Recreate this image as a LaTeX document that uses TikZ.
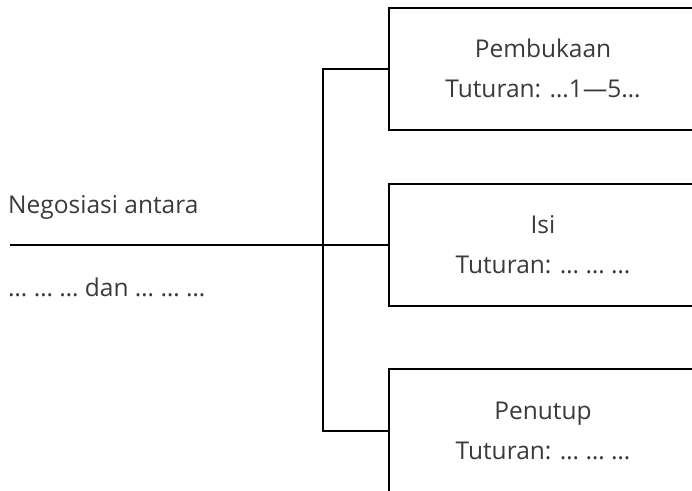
\documentclass[tikz,border=0pt]{standalone}
\usepackage{fontspec}
\setmainfont{Open Sans}
\definecolor{txt}{HTML}{3A3A3A}
\begin{document}
\begin{tikzpicture}[x=1pt,y=-1pt,
  box/.style={draw=black,line width=2pt,minimum width=308pt,minimum height=122pt,
    inner sep=0pt,align=center,text=txt,font=\fontsize{24.5}{40}\selectfont},
  lbl/.style={anchor=west,inner sep=0pt,text=txt,font=\fontsize{24.5}{28}\selectfont},
  conn/.style={line width=2pt}]
\useasboundingbox (0,0) rectangle (692,490);
\clip (0,0) rectangle (692,490);
\node[box] (top) at (543,68.5) {Pembukaan\\Tuturan: …1—5…};
\node[box] (mid) at (543,245) {Isi\\Tuturan: … … …};
\node[box, minimum height=124pt] (bot) at (543,431) {Penutup\\Tuturan: … … …};
\node[lbl] (neg) at (8,207) {Negosiasi antara};
\node[lbl] (dan) at (8,287) {… … … dan … … …};
\coordinate (start) at (10,245);
\coordinate (junc) at (323,245);
\draw[conn] (start) -- (mid.west);
\draw[conn] (top.west) -| (junc) |- (bot.west);
\end{tikzpicture}
\end{document}
